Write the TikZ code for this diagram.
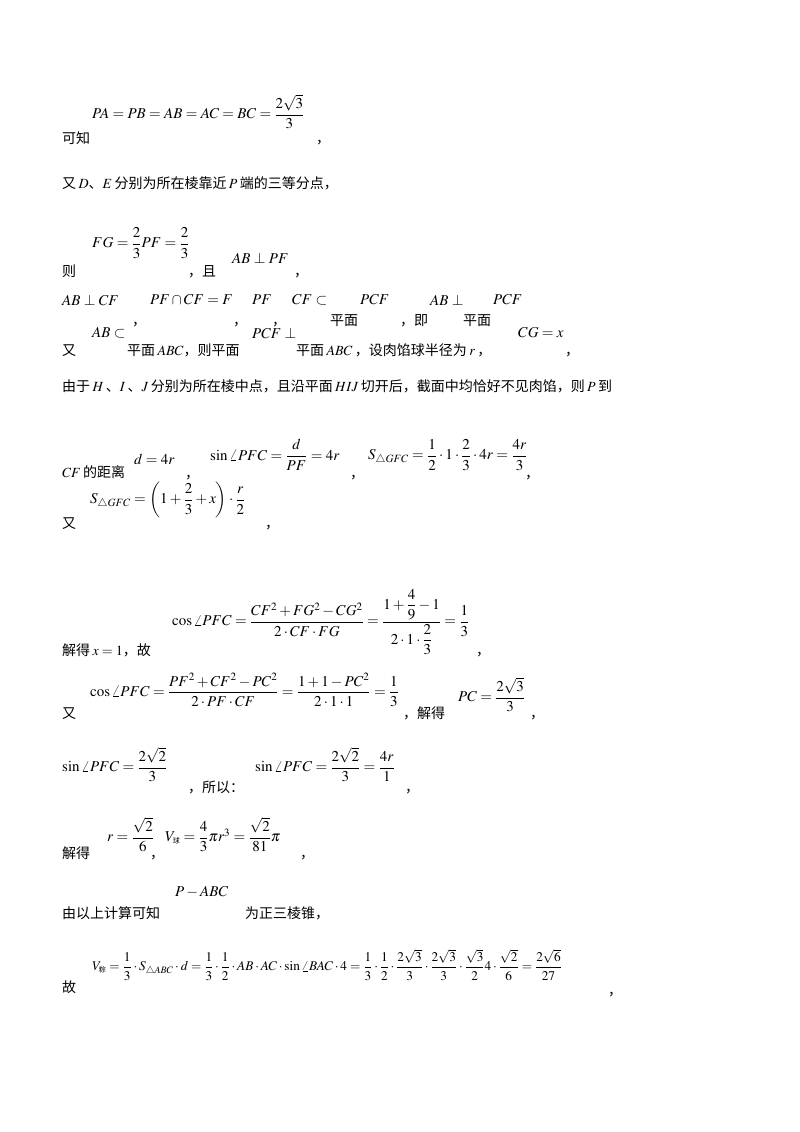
\documentclass[tikz,border=0pt]{standalone}
\usepackage{amsmath}
\usepackage{mathptmx}
\usepackage{fontspec}
\setmainfont{Liberation Serif}
\newfontfamily\cjk{Noto Sans CJK SC}
\begin{document}
\begin{tikzpicture}[x=1pt,y=-1pt,
  tx/.style={anchor=base west,inner sep=0pt,font=\fontsize{14}{16}\selectfont\cjk},
  mt/.style={anchor=west,inner sep=0pt,font=\fontsize{15}{17}\selectfont}]
\path[fill=white] (0,0) rectangle (800,1132);
% L1
\node[mt] (m1) at (92,112) {$PA=PB=AB=AC=BC=\dfrac{2\sqrt3}{3}$};
\node[tx] (t1) at (62,143) {可知};
\node[tx] (c1) at (316,143) {，};
% L2
\node[tx] (t2) at (62,188) {又\,$D$、$E$\,分别为所在棱靠近\,$P$\,端的三等分点，};
% L3
\node[mt] (m3) at (92,243) {$FG=\dfrac23PF=\dfrac23$};
\node[tx] (t3) at (62,276) {则};
\node[tx] (t3b) at (188,276) {，且};
\node[mt] (m3b) at (232,258) {$AB\perp PF$};
\node[tx] (c3) at (294,276) {，};
% L4
\node[mt] (m4a) at (62,300) {$AB\perp CF$};
\node[tx] (c4a) at (132,325) {，};
\node[mt] (m4b) at (150,300) {$PF\cap CF=F$};
\node[tx] (c4b) at (233,325) {，};
\node[mt] (m4c) at (252,300) {$PF$};
\node[tx] (c4c) at (272,325) {，};
\node[mt] (m4d) at (292,300) {$CF\subset$};
\node[tx] (t4d) at (330,325) {平面};
\node[mt] (m4e) at (360,300) {$PCF$};
\node[tx] (t4e) at (400,325) {，即};
\node[mt] (m4f) at (430,300) {$AB\perp$};
\node[tx] (t4f) at (463,325) {平面};
\node[mt] (m4g) at (493,300) {$PCF$};
% L5
\node[tx] (t5a) at (62,355) {又};
\node[mt] (m5a) at (92,333) {$AB\subset$};
\node[tx] (t5b) at (127,355) {平面\,$ABC$，则平面};
\node[mt] (m5b) at (252,333) {$PCF\perp$};
\node[tx] (t5c) at (296,355) {平面\,$ABC$\,，设肉馅球半径为\,$r$\,，};
\node[mt] (m5c) at (518,333) {$CG=x$};
\node[tx] (c5) at (565,355) {，};
% L6
\node[tx] (t6) at (62,391) {由于\,$H$\,、$I$\,、$J$\,分别为所在棱中点，且沿平面\,$HIJ$\,切开后，截面中均恰好不见肉馅，则\,$P$\,到};
% L7
\node[tx] (t7) at (62,477) {$CF$\,的距离};
\node[mt] (m7a) at (134,459) {$d=4r$};
\node[tx] (c7a) at (185,478) {，};
\node[mt] (m7b) at (210,455) {$\sin\angle PFC=\dfrac{d}{PF}=4r$};
\node[tx] (c7b) at (350,478) {，};
\node[mt] (m7c) at (368,455) {$S_{\triangle GFC}=\dfrac12\cdot1\cdot\dfrac23\cdot4r=\dfrac{4r}{3}$};
\node[tx] (c7c) at (525,478) {，};
% L8
\node[mt] (m8) at (90,500) {$S_{\triangle GFC}=\left(1+\dfrac23+x\right)\cdot\dfrac r2$};
\node[tx] (t8) at (62,528) {又};
\node[tx] (c8) at (265,528) {，};
% L9
\node[mt] (m9) at (172,622) {$\cos\angle PFC=\dfrac{CF^2+FG^2-CG^2}{2\cdot CF\cdot FG}=\dfrac{1+\dfrac49-1}{2\cdot1\cdot\dfrac23}=\dfrac13$};
\node[tx] (t9) at (62,655) {解得\,$x=1$，故};
\node[tx] (c9) at (476,655) {，};
% L10
\node[tx] (t10) at (62,718) {又};
\node[mt] (m10a) at (90,690) {$\cos\angle PFC=\dfrac{PF^2+CF^2-PC^2}{2\cdot PF\cdot CF}=\dfrac{1+1-PC^2}{2\cdot1\cdot1}=\dfrac13$};
\node[tx] (t10b) at (403,718) {，解得};
\node[mt] (m10b) at (458,695) {$PC=\dfrac{2\sqrt3}{3}$};
\node[tx] (c10) at (530,718) {，};
% L11
\node[mt] (m11a) at (62,765) {$\sin\angle PFC=\dfrac{2\sqrt2}{3}$};
\node[tx] (t11) at (188,792) {，所以：};
\node[mt] (m11b) at (255,765) {$\sin\angle PFC=\dfrac{2\sqrt2}{3}=\dfrac{4r}{1}$};
\node[tx] (c11) at (405,792) {，};
% L12
\node[tx] (t12) at (62,858) {解得};
\node[mt] (m12a) at (107,835) {$r=\dfrac{\sqrt2}{6}$};
\node[tx] (c12a) at (150,858) {，};
\node[mt] (m12b) at (165,835) {$V_{\text{\cjk\fontsize{7}{8}\selectfont 球}}=\dfrac43\pi r^3=\dfrac{\sqrt2}{81}\pi$};
\node[tx] (c12b) at (300,858) {，};
% L13
\node[tx] (t13) at (62,918) {由以上计算可知};
\node[mt] (m13) at (175,892) {$P-ABC$};
\node[tx] (t13b) at (245,918) {为正三棱锥，};
% L14
\node[mt,font=\fontsize{13.3}{16}\selectfont] (m14) at (92,965) {$V_{\text{\cjk\fontsize{7}{8}\selectfont 粽}}=\dfrac13\cdot S_{\triangle ABC}\cdot d=\dfrac13\cdot\dfrac12\cdot AB\cdot AC\cdot\sin\angle BAC\cdot4=\dfrac13\cdot\dfrac12\cdot\dfrac{2\sqrt3}{3}\cdot\dfrac{2\sqrt3}{3}\cdot\dfrac{\sqrt3}{2}4\cdot\dfrac{\sqrt2}{6}=\dfrac{2\sqrt6}{27}$};
\node[tx] (t14) at (62,992) {故};
\node[tx] (c14) at (608,995) {，};
\end{tikzpicture}
\end{document}
